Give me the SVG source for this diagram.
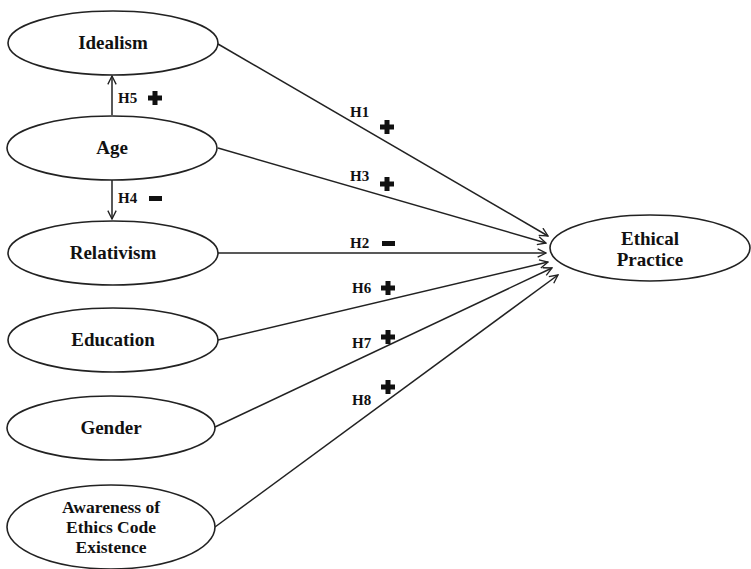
<svg xmlns="http://www.w3.org/2000/svg" width="751" height="569" viewBox="0 0 751 569">
<defs>
<style>
.node ellipse{fill:#fff;stroke:#222;stroke-width:1.6}
.lbl{font-family:"Liberation Serif",serif;font-weight:bold;font-size:19px;fill:#111;text-anchor:middle}
.h{font-family:"Liberation Serif",serif;font-weight:bold;font-size:15px;fill:#111}
.edge{stroke:#222;stroke-width:1.5;fill:none;marker-end:url(#arr)}
.sym{fill:#111}
</style>
<marker id="arr" viewBox="0 0 12 12" refX="11" refY="6" markerWidth="10" markerHeight="10" markerUnits="userSpaceOnUse" orient="auto">
<path d="M1,1 L11,6 L1,11" fill="none" stroke="#222" stroke-width="1.6"/>
</marker>
<path id="plus" d="M-2.5,-7 h5 v4.5 h4.5 v5 h-4.5 v4.5 h-5 v-4.5 h-4.5 v-5 h4.5 z"/>
</defs>
<rect width="751" height="569" fill="#fff"/>
<g id="connectors">
<line class="edge" x1="112" y1="115" x2="112" y2="76"/>
<line class="edge" x1="112" y1="180" x2="112" y2="219"/>
<line class="edge" x1="218" y1="44" x2="548" y2="236"/>
<line class="edge" x1="218" y1="148" x2="546" y2="243"/>
<line class="edge" x1="218" y1="253" x2="546" y2="253"/>
<line class="edge" x1="218" y1="340" x2="548" y2="262"/>
<line class="edge" x1="215" y1="427" x2="552" y2="268"/>
<line class="edge" x1="215" y1="527" x2="558" y2="275"/>
</g>
<g id="labels">
<text class="h" x="118" y="103">H5</text><use href="#plus" class="sym" x="155" y="98"/>
<text class="h" x="118" y="203">H4</text><rect class="sym" x="149" y="196" width="13" height="5"/>
<text class="h" x="350" y="117">H1</text><use href="#plus" class="sym" x="387" y="127"/>
<text class="h" x="350" y="181">H3</text><use href="#plus" class="sym" x="387" y="184"/>
<text class="h" x="350" y="248">H2</text><rect class="sym" x="382" y="241" width="13" height="5"/>
<text class="h" x="352" y="293">H6</text><use href="#plus" class="sym" x="388" y="288"/>
<text class="h" x="352" y="348">H7</text><use href="#plus" class="sym" x="388" y="337"/>
<text class="h" x="352" y="405">H8</text><use href="#plus" class="sym" x="388" y="387"/>
</g>
<g id="n-idealism" class="node"><ellipse cx="113" cy="43" rx="105" ry="32"/><text class="lbl" x="113" y="49">Idealism</text></g>
<g id="n-age" class="node"><ellipse cx="112" cy="148" rx="105" ry="32"/><text class="lbl" x="112" y="154">Age</text></g>
<g id="n-relativism" class="node"><ellipse cx="113" cy="253" rx="105" ry="32"/><text class="lbl" x="113" y="259">Relativism</text></g>
<g id="n-education" class="node"><ellipse cx="113" cy="340" rx="105" ry="32"/><text class="lbl" x="113" y="346">Education</text></g>
<g id="n-gender" class="node"><ellipse cx="111" cy="428" rx="104" ry="32"/><text class="lbl" x="111" y="434">Gender</text></g>
<g id="n-awareness" class="node"><ellipse cx="111" cy="527" rx="104" ry="42"/>
<text class="lbl" x="111" y="513" style="font-size:17.5px">Awareness of</text>
<text class="lbl" x="111" y="533" style="font-size:17.5px">Ethics Code</text>
<text class="lbl" x="111" y="553" style="font-size:17.5px">Existence</text></g>
<g id="n-ethical" class="node"><ellipse cx="650" cy="248" rx="100" ry="33"/>
<text class="lbl" x="650" y="245">Ethical</text><text class="lbl" x="650" y="266">Practice</text></g>
</svg>
